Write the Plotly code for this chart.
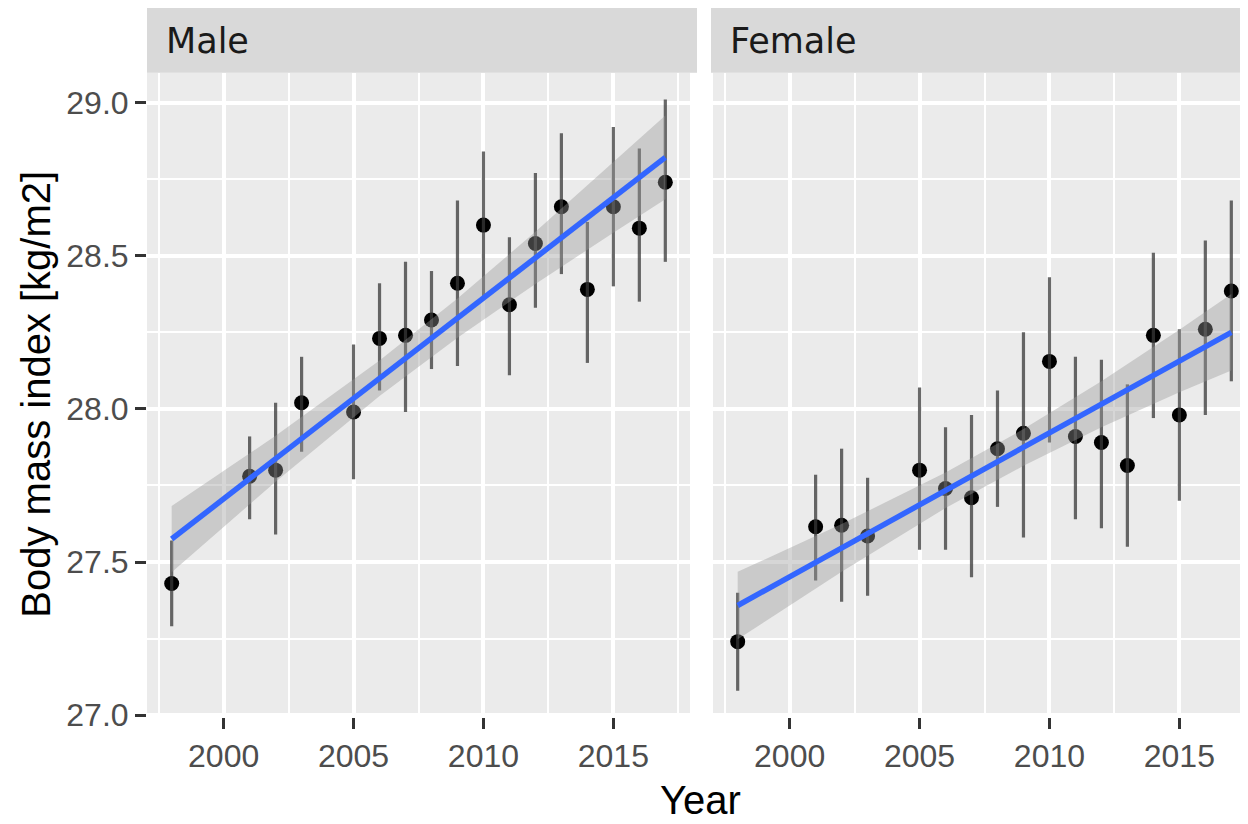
import plotly.graph_objects as go

# ---------------- data ----------------
years = [1998, 2001, 2002, 2003, 2005, 2006, 2007, 2008, 2009, 2010,
         2011, 2012, 2013, 2014, 2015, 2016, 2017]

male_bmi = [27.43, 27.78, 27.80, 28.02, 27.99, 28.23, 28.24, 28.29, 28.41, 28.60,
            28.34, 28.54, 28.66, 28.39, 28.66, 28.59, 28.74]
male_lo = [27.29, 27.64, 27.59, 27.86, 27.77, 28.06, 27.99, 28.13, 28.14, 28.36,
           28.11, 28.33, 28.44, 28.15, 28.40, 28.35, 28.48]
male_hi = [27.57, 27.91, 28.02, 28.17, 28.21, 28.41, 28.48, 28.45, 28.68, 28.84,
           28.56, 28.77, 28.90, 28.61, 28.92, 28.85, 29.01]

female_bmi = [27.24, 27.615, 27.62, 27.585, 27.80, 27.74, 27.71, 27.87, 27.92, 28.155,
              27.91, 27.89, 27.815, 28.24, 27.98, 28.26, 28.385]
female_lo = [27.08, 27.44, 27.37, 27.39, 27.54, 27.54, 27.45, 27.68, 27.58, 27.89,
             27.64, 27.61, 27.55, 27.97, 27.70, 27.98, 28.09]
female_hi = [27.40, 27.785, 27.87, 27.775, 28.07, 27.94, 27.98, 28.06, 28.25, 28.43,
             28.17, 28.16, 28.08, 28.51, 28.26, 28.55, 28.68]

# fitted trend line and its confidence band
fit_years = [1998, 2002, 2006, 2009, 2012, 2015, 2017]
male_fit = [27.575, 27.837, 28.100, 28.296, 28.493, 28.690, 28.821]
male_fit_hi = [27.683, 27.912, 28.158, 28.360, 28.578, 28.805, 28.958]
male_fit_lo = [27.467, 27.762, 28.042, 28.232, 28.408, 28.575, 28.684]
female_fit = [27.358, 27.546, 27.734, 27.874, 28.015, 28.156, 28.250]
female_fit_hi = [27.468, 27.624, 27.792, 27.934, 28.090, 28.258, 28.375]
female_fit_lo = [27.248, 27.468, 27.676, 27.814, 27.940, 28.054, 28.125]

panels = ["Male", "Female"]
x_ticks = [2000, 2005, 2010, 2015]
y_ticks = [27.0, 27.5, 28.0, 28.5, 29.0]

# ---------------- layout geometry (page pixels) ----------------
OFF = 8                      # default body margin of the html page
W, H = 1248 - OFF, 824 - OFF
def px_x(p):
    return (p - OFF) / W
def px_y(p):
    return 1 - (p - OFF) / H

panel_top, panel_bottom = 72.7, 716.7
strip_top = 5.0
p1_left, p1_right = 147.0, 690.0
p2_left, p2_right = 713.0, 1248.0

fig = go.Figure()

series = [
    (male_bmi, male_lo, male_hi, male_fit, male_fit_lo, male_fit_hi, "x", "y"),
    (female_bmi, female_lo, female_hi, female_fit, female_fit_lo, female_fit_hi, "x2", "y2"),
]

for bmi, lo, hi, fit, flo, fhi, xa, ya in series:
    plus = [h - b for h, b in zip(hi, bmi)]
    minus = [b - l for b, l in zip(bmi, lo)]
    # points
    fig.add_trace(go.Scatter(
        x=years, y=bmi, mode="markers", xaxis=xa, yaxis=ya,
        marker=dict(color="black", size=15, line=dict(width=0)),
        showlegend=False, hoverinfo="skip"))
    # error bars (drawn over points)
    fig.add_trace(go.Scatter(
        x=years, y=bmi, mode="markers", xaxis=xa, yaxis=ya,
        marker=dict(color="rgba(0,0,0,0)", size=1),
        error_y=dict(type="data", array=plus, arrayminus=minus, symmetric=False,
                     color="rgba(55,55,55,0.75)", thickness=3.2, width=0),
        showlegend=False, hoverinfo="skip"))
    # confidence ribbon
    fig.add_trace(go.Scatter(
        x=fit_years + fit_years[::-1], y=fhi + flo[::-1],
        mode="lines", fill="toself", xaxis=xa, yaxis=ya,
        fillcolor="rgba(153,153,153,0.4)", line=dict(width=0),
        showlegend=False, hoverinfo="skip"))
    # trend line
    fig.add_trace(go.Scatter(
        x=fit_years, y=fit, mode="lines", xaxis=xa, yaxis=ya,
        line=dict(color="#3366FF", width=5.5),
        showlegend=False, hoverinfo="skip"))

tick_font = dict(family="Liberation Sans, Arial, sans-serif", size=32, color="#4D4D4D")

xr1 = [1997.05, 2017.95]
px_per_year = (p1_right - p1_left) / (xr1[1] - xr1[0])
xr2 = [1997.05, 1997.05 + (p2_right - p2_left) / px_per_year]
yr = [26.995, 29.0975]

common_x = dict(
    tickmode="array", tickvals=x_ticks, ticks="outside", ticklen=11, tickwidth=3,
    tickcolor="#333333", tickfont=tick_font, showgrid=True, gridcolor="white",
    gridwidth=3.5, zeroline=False, showline=False, automargin=False,
    minor=dict(tickmode="array", tickvals=[1997.5, 2002.5, 2007.5, 2012.5, 2017.5],
               showgrid=True, gridcolor="white", gridwidth=1.8, ticks=""),
)
common_y = dict(
    range=yr, tickmode="array", tickvals=y_ticks, showgrid=True, gridcolor="white",
    gridwidth=3.5, zeroline=False, showline=False, automargin=False,
    minor=dict(tickmode="array", tickvals=[27.25, 27.75, 28.25, 28.75],
               showgrid=True, gridcolor="white", gridwidth=1.8, ticks=""),
)

fig.update_layout(
    width=W, height=H,
    margin=dict(l=0, r=0, t=0, b=0),
    paper_bgcolor="white", plot_bgcolor="#EBEBEB",
    showlegend=False,
    xaxis=dict(domain=[px_x(p1_left), px_x(p1_right)], range=xr1, anchor="y", **common_x),
    xaxis2=dict(domain=[px_x(p2_left), min(1.0, px_x(p2_right))], range=xr2, anchor="y2", **common_x),
    yaxis=dict(domain=[px_y(panel_bottom), px_y(panel_top)], anchor="x",
               ticks="outside", ticklen=11, tickwidth=3, tickcolor="#333333",
               tickfont=tick_font, tickformat=".1f", **common_y),
    yaxis2=dict(domain=[px_y(panel_bottom), px_y(panel_top)], anchor="x2",
                matches="y", showticklabels=False, ticks="", **common_y),
)

# facet strips
strip_font = dict(family="DejaVu Sans, sans-serif", size=35, color="#1A1A1A")
strips = [(p1_left, 697.0, panels[0]), (711.0, p2_right, panels[1])]
for x0, x1, label in strips:
    fig.add_shape(type="rect", xref="paper", yref="paper",
                  x0=px_x(x0), x1=min(1.0, px_x(x1)), y0=px_y(panel_top), y1=px_y(strip_top),
                  fillcolor="#D9D9D9", line=dict(width=0), layer="below")
    fig.add_annotation(text=label, xref="paper", yref="paper",
                       x=px_x(x0 + 17), y=px_y((panel_top + strip_top) / 2 + 2),
                       xanchor="left", yanchor="middle", showarrow=False, font=strip_font)

# axis titles
title_font = dict(family="Liberation Sans, Arial, sans-serif", size=40, color="black")
fig.add_annotation(text="Year", xref="paper", yref="paper",
                   x=px_x((p1_left + 1253) / 2), y=px_y(800), xanchor="center", yanchor="middle",
                   showarrow=False, font=title_font)
fig.add_annotation(text="Body mass index [kg/m2]", xref="paper", yref="paper",
                   x=px_x(36), y=px_y((panel_top + panel_bottom) / 2), xanchor="center",
                   yanchor="middle", textangle=-90, showarrow=False, font=title_font)

fig.write_html("out.html")
